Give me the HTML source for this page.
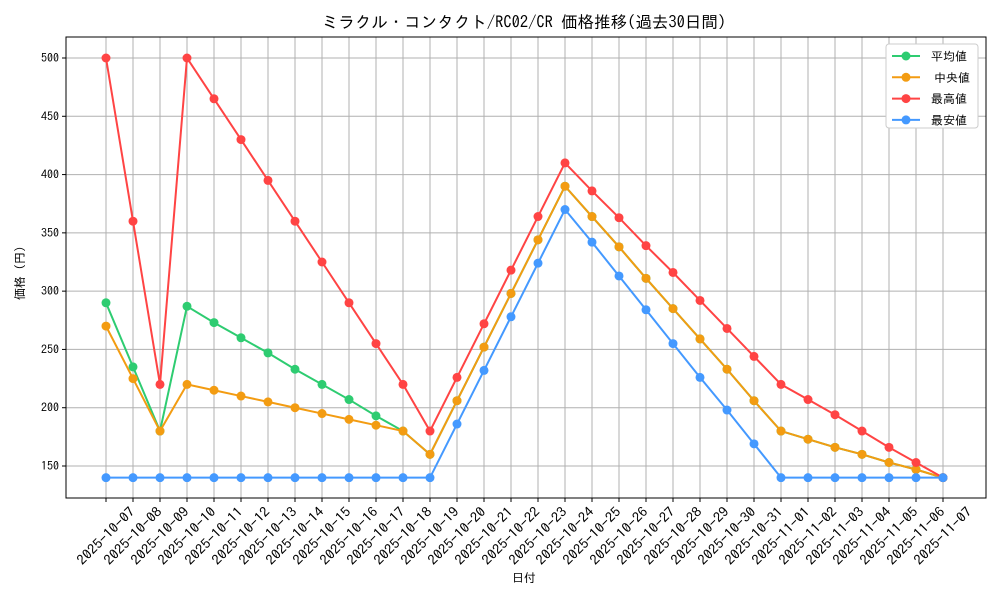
<!DOCTYPE html>
<html><head><meta charset="utf-8"><style>
body{margin:0;background:#fff}
svg{font-family:"IPAGothic","Liberation Sans","Noto Sans CJK JP",sans-serif}
</style></head><body>
<svg id="chart" width="1000" height="600">
<rect width="1000" height="600" fill="#fff"/>
<text x="524" y="28" font-size="16.5" text-anchor="middle">ミラクル・コンタクト/RC02/CR 価格推移(過去30日間)</text>
<g id="grid"></g><g id="axes"></g><g id="series"></g>
<rect x="66" y="37" width="920" height="461" fill="none" stroke="#000" stroke-width="1"/>
<text x="524" y="582" font-size="12" text-anchor="middle">日付</text>
<text transform="translate(24,270) rotate(-90)" font-size="12" text-anchor="middle">価格（円）</text>
<g id="legend"></g>
</svg>
<script>
const dates=["2025-10-07","2025-10-08","2025-10-09","2025-10-10","2025-10-11","2025-10-12","2025-10-13","2025-10-14","2025-10-15","2025-10-16","2025-10-17","2025-10-18","2025-10-19","2025-10-20","2025-10-21","2025-10-22","2025-10-23","2025-10-24","2025-10-25","2025-10-26","2025-10-27","2025-10-28","2025-10-29","2025-10-30","2025-10-31","2025-11-01","2025-11-02","2025-11-03","2025-11-04","2025-11-05","2025-11-06","2025-11-07"];
const meanVals=[290,235,180,287,273,260,247,233,220,207,193,180,160,206,252,298,344,390,364,338,311,285,259,233,206,180,173,166,160,153,147,140];
const medianVals=[270,225,180,220,215,210,205,200,195,190,185,180,160,206,252,298,344,390,364,338,311,285,259,233,206,180,173,166,160,153,147,140];
const maxVals=[500,360,220,500,465,430,395,360,325,290,255,220,180,226,272,318,364,410,386,363,339,316,292,268,244,220,207,194,180,166,153,140];
const minVals=[140,140,140,140,140,140,140,140,140,140,140,140,140,186,232,278,324,370,342,313,284,255,226,198,169,140,140,140,140,140,140,140];
const yTicks=[150,200,250,300,350,400,450,500];
const seriesNames=["平均値","中央値","最高値","最安値"];
const NS="http://www.w3.org/2000/svg";
const xS=i=>106+i*(837/(dates.length-1));
const yS=v=>58+(500-v)*(408/350);
function mk(t,a,p){const e=document.createElementNS(NS,t);for(const k in a)e.setAttribute(k,a[k]);p.appendChild(e);return e;}
const grid=document.getElementById('grid'),axes=document.getElementById('axes'),ser=document.getElementById('series'),leg=document.getElementById('legend');
dates.forEach((d,i)=>{const x=xS(i);
 const g=mk('line',{x1:x,x2:x,y1:37,y2:498,stroke:'#b0b0b0','stroke-width':1},grid);
 
 
 mk('line',{x1:x,x2:x,y1:498,y2:502,stroke:'#000'},axes);
 const t=mk('text',{x:x,y:540.5,'font-size':13.5,'text-anchor':'middle',textLength:75,lengthAdjust:'spacingAndGlyphs',transform:`rotate(-45 ${x} 536)`},axes);
 t.textContent=d;
 
 
});
yTicks.forEach(v=>{const y=yS(v);
 const g=mk('line',{x1:66,x2:986,y1:y,y2:y,stroke:'#b0b0b0','stroke-width':1},grid);
 
 
 mk('line',{x1:62,x2:66,y1:y,y2:y,stroke:'#000'},axes);
 const t=mk('text',{x:59,y:y+4,'font-size':12,'text-anchor':'end'},axes);
 t.textContent=v;
 
 
});
const all=[meanVals,medianVals,maxVals,minVals],cols=["#2ecc71","#f39c12","#ff4444","#4499ff"],snames=["series-mean","series-median","series-max","series-min"];
all.forEach((vals,s)=>{
 const g=mk('g',{},ser);
 
 
 mk('polyline',{points:vals.map((v,i)=>xS(i)+','+yS(v)).join(' '),fill:'none',stroke:cols[s],'stroke-width':2},g);
 vals.forEach((v,i)=>{const c=mk('circle',{cx:xS(i),cy:yS(v),r:4.5,fill:cols[s]},g);
  
  });
});
mk('rect',{x:886,y:44,width:92,height:84,fill:'#fff',stroke:'#ccc',rx:3},leg);


seriesNames.forEach((n,s)=>{const y=56+s*21.3;
 const g=mk('g',{},leg);
 
 
 mk('line',{x1:892,x2:920,y1:y,y2:y,stroke:cols[s],'stroke-width':2},g);
 mk('circle',{cx:906,cy:y,r:4.5,fill:cols[s]},g);
 const t=mk('text',{x:s==1?934:931,y:y+4.5,'font-size':12},g);t.textContent=n;
});
</script>
</body></html>
